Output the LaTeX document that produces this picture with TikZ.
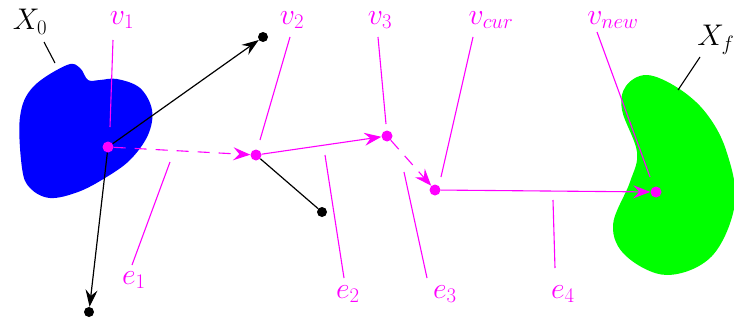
\documentclass[tikz,border=0pt]{standalone}
\usepackage{graphicx}
\usetikzlibrary{arrows.meta}
\definecolor{mag}{RGB}{255,0,255}
\definecolor{myblue}{RGB}{0,0,255}
\definecolor{mygreen}{RGB}{0,255,0}
\newcommand{\mylbl}[1]{\scalebox{1.2}{$#1$}}
\tikzset{
  lbl/.style={font=\fontsize{26}{30}\selectfont, inner sep=0pt},
  mlbl/.style={lbl, text=mag},
  lead/.style={mag, line width=1.1pt},
  bdot/.style={circle, fill=black, inner sep=0pt, minimum size=10pt},
  mdot/.style={circle, fill=mag, inner sep=0pt, minimum size=11pt},
  barrow/.style={line width=1.2pt, -{Stealth[length=17pt,width=12pt,inset=6pt]}},
  marrow/.style={mag, line width=1.1pt, -{Stealth[length=17pt,width=13pt,inset=6pt]}},
}
\begin{document}
\begin{tikzpicture}[x=1pt,y=-1pt]
\useasboundingbox (0,0) rectangle (734,324);
% blobs
\fill[myblue] plot[smooth cycle, tension=0.6] coordinates {(67,65) (80,68) (88,80) (100,80) (117,79) (140,88) (152,110) (148,135) (130,160) (105,178) (78,192) (50,198) (30,188) (22,168) (20,117) (33,87)};
\fill[mygreen] plot[smooth cycle, tension=0.6] coordinates {(647,75) (678,88) (706,113) (726,150) (735,203) (712,256) (667,275) (626,256) (613,225) (630,182) (637,152) (622,110) (626,86)};
% dots
\node[mdot] (v1) at (108,147) {};
\node[mdot] (v2) at (256,155) {};
\node[mdot] (v3) at (387,136) {};
\node[mdot] (vc) at (435,190) {};
\node[mdot] (vn) at (656,192) {};
\node[bdot] (b1) at (263,37) {};
\node[bdot] (b2) at (322,212) {};
\node[bdot] (b3) at (89,312) {};
% black edges
\draw[barrow] (v1) -- (b1);
\draw[barrow] (v1) -- (b3);
\draw[line width=1.2pt] (v2) -- (b2);
% magenta edges
\draw[marrow, dash pattern=on 12pt off 9pt] (v1) -- (v2);
\draw[marrow] (v2) -- (v3);
\draw[marrow, dash pattern=on 12pt off 9pt] (v3) -- (vc);
\draw[marrow] (vc) -- (vn);
% labels
\node[lbl] (X0) at (30,22) {\mylbl{X_0}};
\coordinate (x0a) at (44,42); \coordinate (x0b) at (55,63);
\draw[line width=1.1pt] (x0a) -- (x0b);
\node[lbl] (Xf) at (716,40) {\mylbl{X_f}};
\coordinate (xfa) at (700,57); \coordinate (xfb) at (678,90);
\draw[line width=1.1pt] (xfa) -- (xfb);
\node[mlbl] (lv1) at (122,20) {\mylbl{v_1}};
\node[mlbl] (lv2) at (292,20) {\mylbl{v_2}};
\node[mlbl] (lv3) at (380,20) {\mylbl{v_3}};
\node[mlbl] (lvc) at (491,20) {\mylbl{v_{cur}}};
\node[mlbl] (lvn) at (613,20) {\mylbl{v_{new}}};
\node[mlbl] (le1) at (134,280) {\mylbl{e_1}};
\node[mlbl] (le2) at (348,294) {\mylbl{e_2}};
\node[mlbl] (le3) at (445,294) {\mylbl{e_3}};
\node[mlbl] (le4) at (563,294) {\mylbl{e_4}};
\coordinate (a1) at (113,40); \coordinate (a2) at (110,127);
\coordinate (b1a) at (290,37); \coordinate (b1b) at (260,140);
\coordinate (c1) at (378,37); \coordinate (c2) at (386,124);
\coordinate (d1) at (473,37); \coordinate (d2) at (441,177);
\coordinate (f1) at (597,32); \coordinate (f2) at (650,177);
\coordinate (g1) at (170,162); \coordinate (g2) at (132,265);
\coordinate (h1) at (325,155); \coordinate (h2) at (344,278);
\coordinate (i1) at (404,172); \coordinate (i2) at (427,278);
\coordinate (j1) at (553,200); \coordinate (j2) at (555,268);
\draw[lead] (a1) -- (a2);
\draw[lead] (b1a) -- (b1b);
\draw[lead] (c1) -- (c2);
\draw[lead] (d1) -- (d2);
\draw[lead] (f1) -- (f2);
\draw[lead] (g1) -- (g2);
\draw[lead] (h1) -- (h2);
\draw[lead] (i1) -- (i2);
\draw[lead] (j1) -- (j2);
\end{tikzpicture}
\end{document}
